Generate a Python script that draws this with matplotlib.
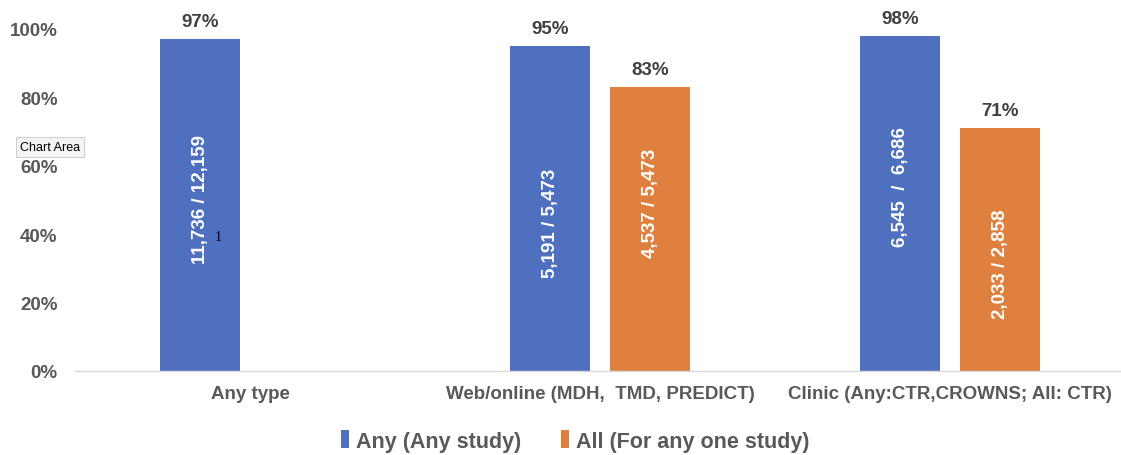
import matplotlib
matplotlib.use("Agg")
import matplotlib.pyplot as plt
from matplotlib.patches import Patch
import numpy as np

categories = ["Any type", "Web/online (MDH,  TMD, PREDICT)", "Clinic (Any:CTR,CROWNS; All: CTR)"]
series_names = ["Any (Any study)", "All (For any one study)"]
any_values = [97, 95, 98]
all_values = [np.nan, 83, 71]
any_counts = ["11,736 / 12,159", "5,191 / 5,473", "6,545  /  6,686"]
all_counts = ["", "4,537 / 5,473", "2,033 / 2,858"]
yticks = [0, 20, 40, 60, 80, 100]

# label vertical positions (in data units) as placed in the reference
any_label_y = [50.3, 43.6, 54.1]
all_label_y = [None, 49.4, 31.6]

BLUE = "#4E70BE"
ORANGE = "#E0803F"
TICK_COL = "#595959"
LAB_COL = "#404040"

plt.rcParams['font.family'] = ['Liberation Sans', 'DejaVu Sans']

W, H = 1121, 456
fig = plt.figure(figsize=(W / 100, H / 100), dpi=100)
left = 75 / W
bottom = (H - 372) / H
top = (H - 30) / H
ax = fig.add_axes([left, bottom, 1050 / W, top - bottom])

x = np.arange(len(categories))
bw = 80 / 350
off = 50 / 350
b1 = ax.bar(x - off, any_values, bw, color=BLUE, zorder=2)
b2 = ax.bar(x + off, all_values, bw, color=ORANGE, zorder=2)

ax.set_xlim(-0.5, len(categories) - 0.5)
ax.set_ylim(0, 100)
ax.set_yticks(yticks)
ax.set_yticklabels([f"{v}%" for v in yticks])
ax.set_xticks(x)
ax.set_xticklabels(categories)
ax.tick_params(axis='both', length=0, labelsize=13.5, labelcolor=TICK_COL)
ax.tick_params(axis='y', pad=12.5)
ax.tick_params(axis='x', pad=10)
for lab in ax.get_xticklabels() + ax.get_yticklabels():
    lab.set_fontweight('bold')
for s in ['top', 'right', 'left']:
    ax.spines[s].set_visible(False)
ax.spines['bottom'].set_color('#D9D9D9')
ax.spines['bottom'].set_linewidth(1.0)

# value labels above bars
for xs, vals in [(x - off, any_values), (x + off, all_values)]:
    for xi, v in zip(xs, vals):
        if np.isnan(v):
            continue
        ax.annotate(f"{v:.0f}%", (xi, v), xytext=(0, 12.5), textcoords='offset points',
                    ha='center', va='center', fontsize=13.5, fontweight='bold',
                    color=LAB_COL, annotation_clip=False)

# count labels inside bars
for xs, labs, ys in [(x - off, any_counts, any_label_y), (x + off, all_counts, all_label_y)]:
    for xi, t, yy in zip(xs, labs, ys):
        if not t:
            continue
        ax.text(xi, yy, t, rotation=90, ha='center', va='center', fontsize=13.5,
                fontweight='bold', color='white', zorder=3)

# legend
handles = [Patch(facecolor=BLUE, edgecolor='none'), Patch(facecolor=ORANGE, edgecolor='none')]
leg = fig.legend(handles, series_names, loc='center', bbox_to_anchor=(575 / W, 1 - 442 / H),
                 ncol=2, frameon=False, handlelength=0.4, handleheight=0.85,
                 handletextpad=0.3, columnspacing=1.85,
                 prop={'size': 15.5, 'weight': 'bold'})
for t in leg.get_texts():
    t.set_color(TICK_COL)

# screenshot artifacts: tooltip and marker
fig.text(50 / W, 1 - 148 / H, "Chart Area", ha='center', va='center', fontsize=9,
         color='black', family=['Liberation Sans', 'DejaVu Sans'],
         bbox=dict(boxstyle='square,pad=0.35', facecolor='#F4F4F4', edgecolor='#D0D0D0', linewidth=0.8))
fig.text(218 / W, 1 - 238 / H, "1", ha='center', va='center', fontsize=10, color='black',
         family=['Liberation Serif', 'DejaVu Serif'])

fig.savefig("out.png", dpi=100)
